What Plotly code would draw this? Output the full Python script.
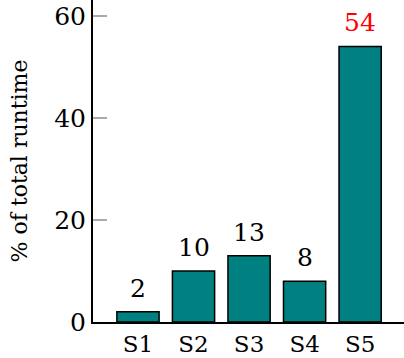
import plotly.graph_objects as go

categories = ["S1", "S2", "S3", "S4", "S5"]
values = [2, 10, 13, 8, 54]
label_colors = ["black", "black", "black", "black", "red"]
y_ticks = [0, 20, 40, 60]

FONT = "DejaVu Serif"
FS = 25

fig = go.Figure()
fig.add_trace(go.Bar(
    x=categories, y=values,
    marker=dict(color="#008080", line=dict(color="black", width=1.5)),
    width=0.76,
    hoverinfo="skip",
))

for c, v, col in zip(categories, values, label_colors):
    fig.add_annotation(x=c, y=v, text=str(v), showarrow=False,
                       yanchor="bottom", yshift=7,
                       font=dict(family=FONT, size=FS, color=col))

fig.update_layout(
    width=404, height=358,
    margin=dict(l=93, r=0, t=0, b=36, autoexpand=False),
    plot_bgcolor="white", paper_bgcolor="white",
    showlegend=False,
    font=dict(family=FONT, size=FS, color="black"),
)
fig.update_xaxes(
    range=[-0.81, 4.79], showline=True, linecolor="black", linewidth=2,
    ticks="", showgrid=False, zeroline=False, automargin=False,
    tickfont=dict(family=FONT, size=23), ticklabeloverflow="allow",
)
fig.update_yaxes(
    range=[0, 63.1], showline=True, linecolor="black", linewidth=2,
    tickvals=y_ticks, ticks="inside", tickcolor="#aaaaaa", ticklen=14, tickwidth=1.5,
    showgrid=False, zeroline=False, automargin=False,
    tickfont=dict(family=FONT, size=FS), ticklabeloverflow="allow",
    title=dict(text="% of total runtime", font=dict(family=FONT, size=22), standoff=20),
)

fig.write_html("out.html")
